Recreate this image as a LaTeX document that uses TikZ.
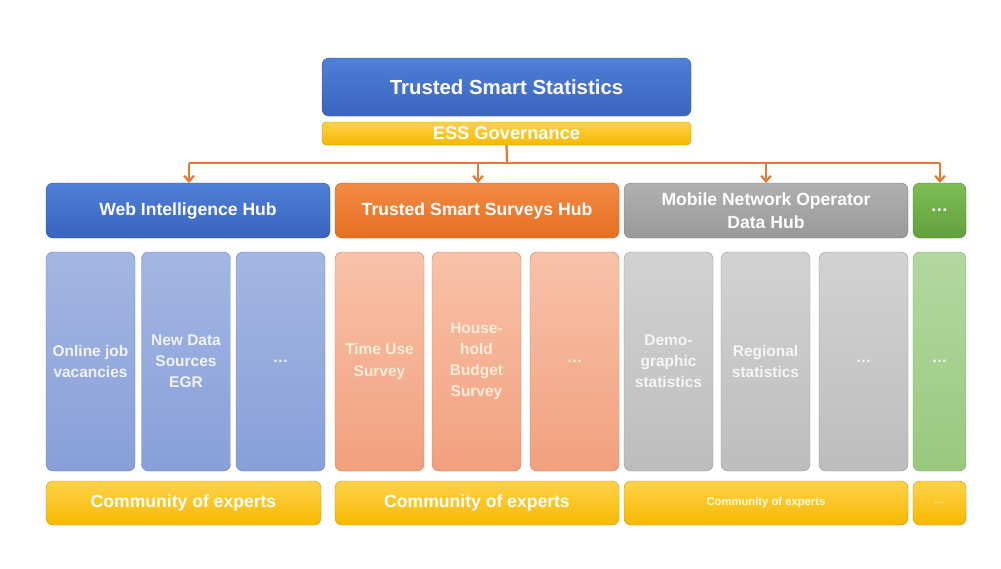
\documentclass[tikz,border=0pt]{standalone}
\usepackage{fontspec}
\setmainfont{Liberation Sans}
\usetikzlibrary{arrows.meta}
\definecolor{blueA}{HTML}{4F7FD6}\definecolor{blueB}{HTML}{3A64BE}
\definecolor{bcolA}{HTML}{A3B7E4}\definecolor{bcolB}{HTML}{889FD8}
\definecolor{orA}{HTML}{F38A45}\definecolor{orB}{HTML}{E56F20}
\definecolor{ocolA}{HTML}{F8C2A8}\definecolor{ocolB}{HTML}{F2A07E}
\definecolor{grA}{HTML}{B0B0B0}\definecolor{grB}{HTML}{999999}
\definecolor{gcolA}{HTML}{D2D2D2}\definecolor{gcolB}{HTML}{BDBDBD}
\definecolor{gnA}{HTML}{7DBE55}\definecolor{gnB}{HTML}{62A03B}
\definecolor{gncolA}{HTML}{B3D8A0}\definecolor{gncolB}{HTML}{99C87E}
\definecolor{yeA}{HTML}{FFD24A}\definecolor{yeB}{HTML}{F6B800}
\definecolor{arr}{HTML}{E07B39}
\tikzset{
 box/.style={rounded corners=5pt,inner sep=0pt,align=center,text=white,font=\bfseries},
 bx/.style n args={4}{box,minimum width=#3*0.025cm,minimum height=#4*0.025cm,top color=#1,bottom color=#2,draw=#2!80!black,line width=0.3pt},
 colt/.style={font=\bfseries\fontsize{11}{15}\selectfont},
 hubt/.style={font=\bfseries\fontsize{12.5}{16}\selectfont},
 link/.style={draw=arr,line width=1.6pt,-{Straight Barb[length=4pt,width=7pt]}}
}
\begin{document}
\begin{tikzpicture}[x=0.025cm,y=-0.025cm]
\useasboundingbox[fill=white] (0,0) rectangle (1001,568);
% top
\node[bx={blueA}{blueB}{369}{58},font=\bfseries\fontsize{14.5}{16}\selectfont] (tss) at (506.5,87) {Trusted Smart Statistics};
\node[bx={yeA}{yeB}{369}{23},font=\bfseries\fontsize{13}{14}\selectfont,rounded corners=3pt] (ess) at (506.5,133.5) {ESS Governance};
% hubs
\node[bx={blueA}{blueB}{284}{55},hubt] (h1) at (188,210.5) {Web Intelligence Hub};
\node[bx={orA}{orB}{284}{55},hubt] (h2) at (477,210.5) {Trusted Smart Surveys Hub};
\node[bx={grA}{grB}{284}{55},hubt] (h3) at (766,210.5) {Mobile Network Operator\\Data Hub};
\node[bx={gnA}{gnB}{53}{55},hubt] (h4) at (939.5,210.5) {\dots};
% connectors
\coordinate (j) at (507,163);
\draw[draw=arr,line width=1.6pt] (ess.south) -- (j);
\draw[draw=arr,line width=1.6pt] (189,163) -- (940,163);
\foreach \h/\x in {h1/189,h2/478,h3/766,h4/940}{
 \draw[link] (\x,163) -- (\x,183);}
% columns
\foreach \n/\x/\t in {c1/90.5/{Online job\\vacancies},c2/186/{New Data\\Sources\\EGR},c3/280.5/{\dots}}
 {\node[bx={bcolA}{bcolB}{89}{219},colt,text=white!95!blue] (\n) at (\x,361.5) {\t};}
\foreach \n/\x/\t in {c4/379.5/{Time Use\\Survey},c5/476.5/{House-\\hold\\Budget\\Survey},c6/574.5/{\dots}}
 {\node[bx={ocolA}{ocolB}{89}{219},colt,text=white!85!orange] (\n) at (\x,361.5) {\t};}
\foreach \n/\x/\t in {c7/668.5/{Demo-\\graphic\\statistics},c8/765.5/{Regional\\statistics},c9/863.5/{\dots}}
 {\node[bx={gcolA}{gcolB}{89}{219},colt,text=white!92!gray] (\n) at (\x,361.5) {\t};}
\node[bx={gncolA}{gncolB}{53}{219},colt] (c10) at (939.5,361.5) {\dots};
% community
\node[bx={yeA}{yeB}{275}{44},hubt] (e1) at (183.5,503) {Community of experts};
\node[bx={yeA}{yeB}{284}{44},hubt] (e2) at (477,503) {Community of experts};
\node[bx={yeA}{yeB}{284}{44},font=\bfseries\fontsize{8}{9}\selectfont,text=white!85!yellow] (e3) at (766,503) {Community of experts};
\node[bx={yeA}{yeB}{53}{44},font=\fontsize{8}{9}\selectfont,text=white!85!yellow] (e4) at (939.5,503) {\dots};
\end{tikzpicture}
\end{document}
